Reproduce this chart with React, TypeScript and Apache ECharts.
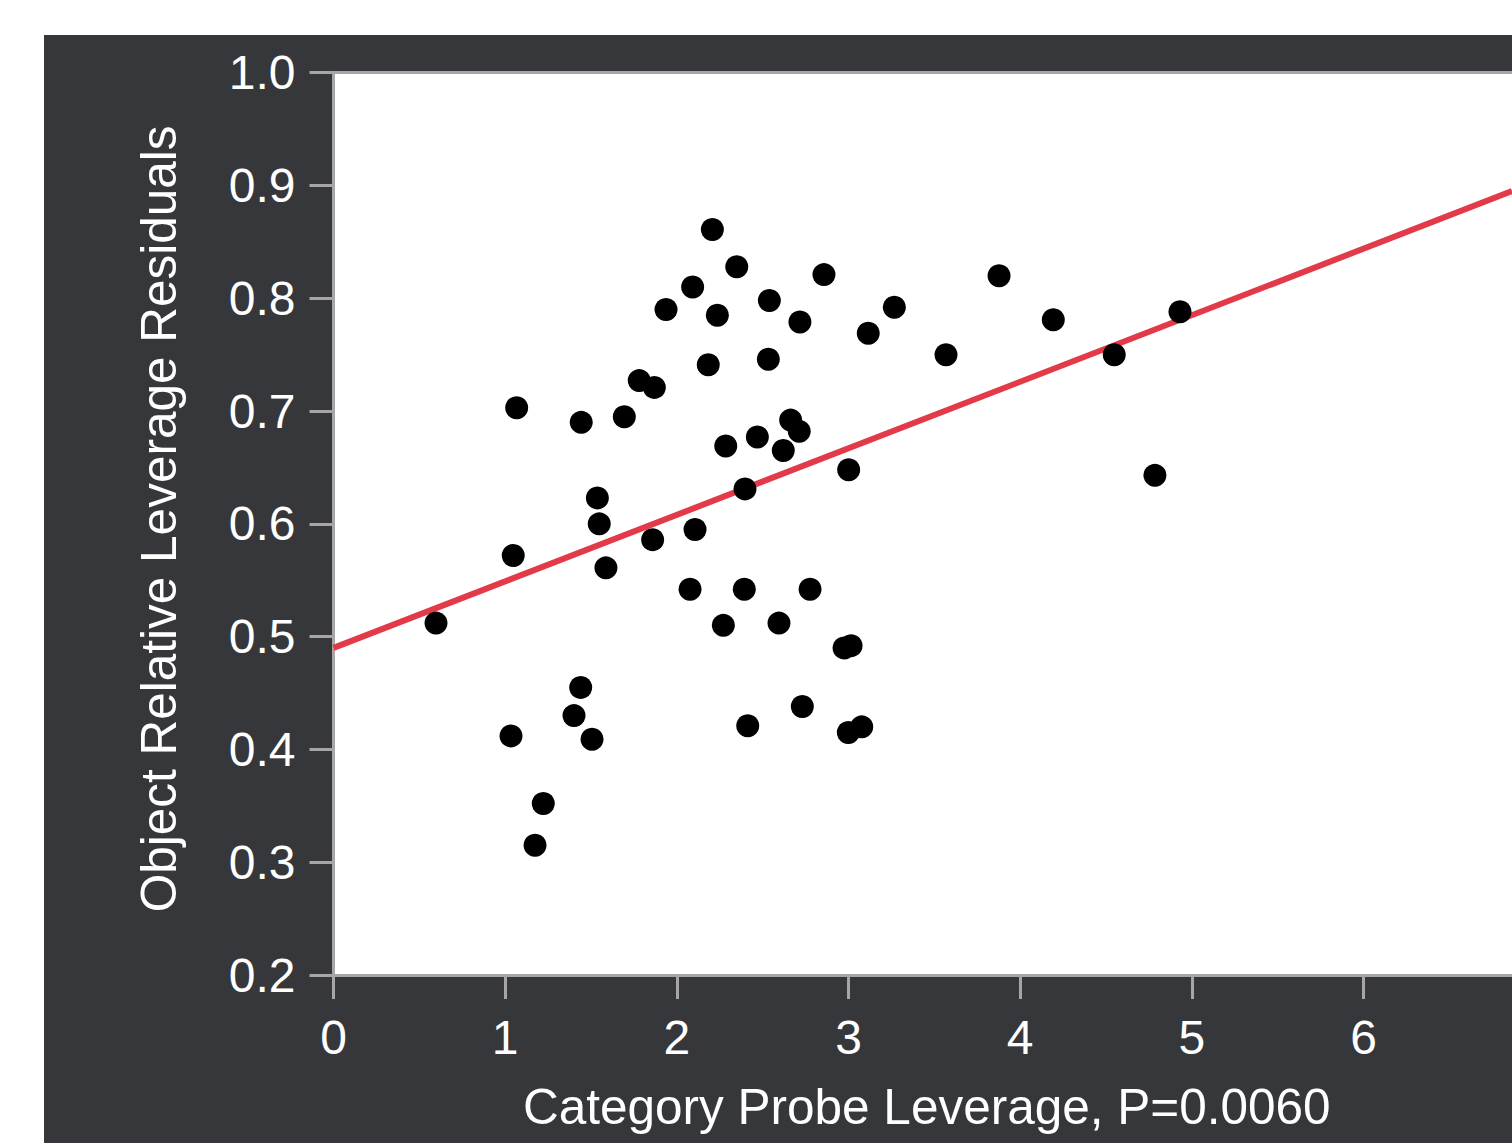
import React, { useEffect, useRef } from "react";
import * as echarts from "echarts";

const xValues = [
  0.597, 1.067, 1.047, 1.034, 1.222, 1.174, 1.443, 1.537, 1.548, 1.587,
  1.44, 1.401, 1.506, 1.694, 1.781, 1.869, 1.859, 1.937, 2.092, 2.207,
  2.236, 2.183, 2.106, 2.077, 2.271, 2.349, 2.285, 2.397, 2.469, 2.393,
  2.413, 2.539, 2.533, 2.62, 2.663, 2.713, 2.717, 2.595, 2.776, 2.731,
  2.857, 3.001, 2.974, 3.015, 2.999, 3.077, 3.115, 3.267, 3.568, 3.877,
  4.193, 4.548, 4.785, 4.931,
];
const yValues = [
  0.512, 0.703, 0.572, 0.412, 0.352, 0.315, 0.69, 0.623, 0.6, 0.561,
  0.455, 0.43, 0.409, 0.695, 0.727, 0.721, 0.586, 0.79, 0.81, 0.861,
  0.785, 0.741, 0.595, 0.542, 0.51, 0.828, 0.669, 0.631, 0.677, 0.542,
  0.421, 0.798, 0.746, 0.665, 0.692, 0.682, 0.779, 0.512, 0.542, 0.438,
  0.821, 0.648, 0.49, 0.492, 0.415, 0.42, 0.769, 0.792, 0.75, 0.82,
  0.781, 0.75, 0.643, 0.788,
];
const fitX = [0, 6.865];
const fitY = [0.49, 0.895];
const xTicks = [0, 1, 2, 3, 4, 5, 6];
const xAxisMax = 6.865;
const yAxisMin = 0.2;
const yAxisMax = 1.0;

const xTitle = "Category Probe Leverage, P=0.0060";
const yTitle = "Object Relative Leverage Residuals";

const FONT = "'Liberation Sans', Arial, Helvetica, sans-serif";
const GRAY = "#a6a6a6";

export default function App() {
  const ref = useRef<HTMLDivElement>(null);
  useEffect(() => {
    if (!ref.current) return;
    const chart = echarts.init(ref.current, undefined, { renderer: "svg" });
    const points = xValues.map((x, i) => [x, yValues[i]]);
    const fit = fitX.map((x, i) => [x, fitY[i]]);
    chart.setOption({
      animation: false,
      backgroundColor: "#36373b",
      textStyle: { fontFamily: FONT },
      grid: {
        left: 289.5,
        top: 37.7,
        right: 0,
        bottom: 168,
        show: true,
        backgroundColor: "#ffffff",
        borderWidth: 0,
      },
      xAxis: [
        {
          type: "value",
          min: 0,
          max: xAxisMax,
          interval: 1,
          splitLine: { show: false },
          axisLine: { show: true, lineStyle: { color: GRAY, width: 3 } },
          axisTick: {
            show: true,
            length: 24,
            lineStyle: { color: GRAY, width: 3 },
            customValues: xTicks,
          },
          axisLabel: {
            color: "#ffffff",
            fontSize: 48,
            fontFamily: FONT,
            margin: 38,
            customValues: xTicks,
          },
          name: xTitle,
          nameLocation: "middle",
          nameGap: 106,
          nameTextStyle: {
            color: "#ffffff",
            fontSize: 49.5,
            fontFamily: FONT,
            padding: [0, 0, 0, 8],
          },
        },
        {
          type: "value",
          position: "top",
          min: 0,
          max: xAxisMax,
          interval: 1,
          splitLine: { show: false },
          axisLine: { show: true, lineStyle: { color: GRAY, width: 3 } },
          axisTick: { show: false },
          axisLabel: { show: false },
        },
      ],
      yAxis: {
        type: "value",
        min: yAxisMin,
        max: yAxisMax,
        interval: 0.1,
        splitLine: { show: false },
        axisLine: { show: true, lineStyle: { color: GRAY, width: 3 } },
        axisTick: { show: true, length: 24, lineStyle: { color: GRAY, width: 3 } },
        axisLabel: {
          color: "#ffffff",
          fontSize: 48,
          fontFamily: FONT,
          margin: 38,
          formatter: (v: number) => v.toFixed(1),
        },
        name: yTitle,
        nameLocation: "middle",
        nameGap: 150,
        nameTextStyle: {
          color: "#ffffff",
          fontSize: 49.5,
          fontFamily: FONT,
          padding: [0, 0, 0, 10],
        },
      },
      series: [
        {
          type: "line",
          xAxisIndex: 0,
          data: fit,
          symbol: "none",
          lineStyle: { color: "#e23a48", width: 6 },
          z: 2,
        },
        {
          type: "scatter",
          xAxisIndex: 0,
          data: points,
          symbol: "circle",
          symbolSize: 23,
          itemStyle: { color: "#000000", opacity: 1 },
          z: 3,
        },
      ],
    });
    return () => chart.dispose();
  }, []);
  return (
    <div
      ref={ref}
      style={{ position: "absolute", left: 44, top: 35, width: 1468, height: 1108 }}
    />
  );
}
